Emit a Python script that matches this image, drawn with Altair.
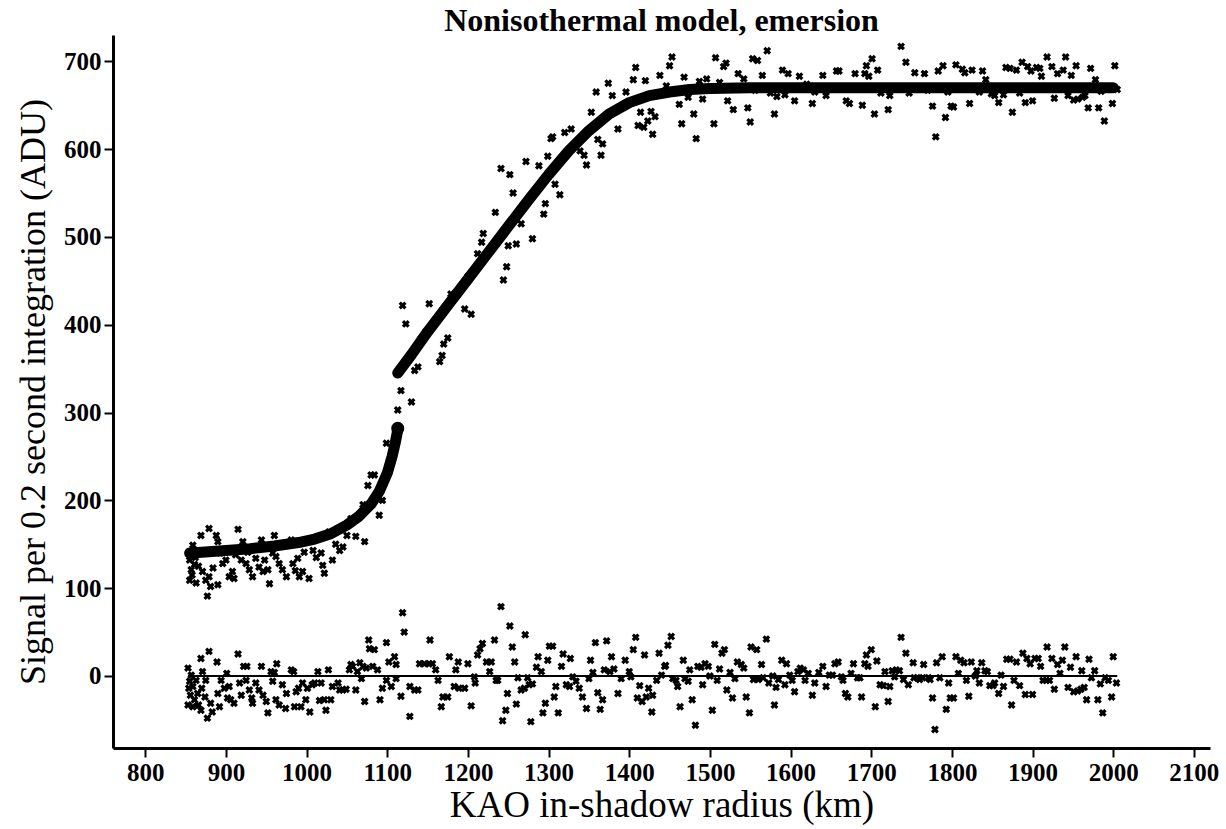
import altair as alt
import pandas as pd

FONT = "Liberation Serif"

title_text = "Nonisothermal model, emersion"
x_title = "KAO in-shadow radius (km)"
y_title = "Signal per 0.2 second integration (ADU)"
x_ticks = [800, 900, 1000, 1100, 1200, 1300, 1400, 1500, 1600, 1700, 1800, 1900, 2000, 2100]
y_ticks = [0, 100, 200, 300, 400, 500, 600, 700]

# observed light-curve points (radius km, signal ADU)
data_pts = [
    (855,132),(857,121),(855,109),(861,127),(863,106),(859,149),(869,160),(879,168),(871,119),(875,109),
    (879,113),(881,102),(877,91),(888,160),(890,153),(890,104),(896,128),(900,132),(904,113),(910,111),
    (908,119),(915,167),(921,153),(919,132),(925,128),(929,121),(933,113),(937,134),(941,124),(944,155),
    (948,132),(952,121),(954,105),(960,160),(962,136),(966,128),(970,121),(975,113),(981,155),(983,128),
    (989,134),(991,113),(995,119),(1003,111),(997,141),(1008,143),(1018,140),(1020,126),(1022,117),(1028,164),
    (1032,132),(1041,143),(1045,147),(1055,179),(1061,159),(1072,153),(1070,195),(1076,217),(1080,229),(1084,229),
    (1090,183),(1094,200),(858,115),(862,135),(866,125),(884,123),(893,140),(912,138),(927,141),(946,119),
    (958,140),(986,120),(1012,135),(1036,150),(1050,160),
    (1099,265),(1113,303),(1117,325),(1130,312),(1123,401),(1119,422),(1152,424),(1134,348),(1138,352),(1142,384),
    (1148,392),(1157,401),(1168,365),(1165,358),(1170,378),(1175,385),(1179,435),(1190,439),(1200,455),(1204,412),
    (1196,418),(1212,481),(1217,494),(1219,504),(1234,528),(1244,451),(1248,466),(1250,490),(1260,492),(1266,515),
    (1280,498),(1256,550),(1241,578),(1252,571),(1272,586),(1288,581),(1294,526),(1296,538),(1299,592),(1308,560),
    (1314,548),(1303,612),(1305,614),(1320,619),(1328,623),(1339,598),(1344,593),(1347,582),(1365,593),(1361,611),
    (1367,606),(1353,642),(1359,665),(1374,675),(1379,661),(1386,623),
    (1396,665),(1405,679),(1408,693),(1414,642),(1411,627),(1418,625),(1420,678),(1423,632),(1427,643),(1432,637),
    (1429,617),(1438,684),(1446,672),(1450,695),(1453,705),(1462,651),(1465,629),(1468,682),(1473,659),(1480,640),
    (1483,612),(1487,677),(1491,657),(1496,680),(1505,629),(1507,704),(1517,694),(1520,698),(1512,676),(1522,655),
    (1529,645),(1535,686),(1542,680),(1547,647),(1550,631),(1553,703),(1559,701),(1556,667),(1565,684),(1571,712),
    (1575,664),(1580,640),(1583,660),(1593,662),(1590,690),(1597,686),(1605,655),(1611,683),(1620,674),(1627,652),
    (1630,665),(1640,684),(1644,661),(1657,689),(1660,689),(1669,655),(1673,652),(1680,686),
    (1689,650),(1692,686),(1694,695),(1701,703),(1697,683),(1708,690),(1712,664),(1704,640),(1721,645),(1723,661),
    (1737,717),(1743,699),(1747,664),(1754,687),(1766,686),(1770,667),(1776,649),(1780,614),(1783,689),(1789,695),
    (1792,636),(1795,665),(1799,649),(1802,648),(1805,696),(1813,691),(1816,687),(1822,652),(1825,690),(1834,665),
    (1838,689),(1842,679),(1849,663),(1853,661),(1858,653),(1864,662),(1867,693),(1872,692),(1875,642),(1880,690),
    (1884,664),(1887,699),(1891,653),(1894,694),(1898,689),(1900,655),(1905,693),(1909,692),(1911,683),(1918,705),
    (1920,669),(1924,694),(1927,658),(1931,686),(1938,690),(1941,705),(1944,661),(1948,684),(1951,656),(1956,657),
    (1962,659),(1954,695),(1965,661),(1969,647),(1972,692),(1978,679),(1982,647),(1985,666),(1989,632),(1999,652),
    (2002,695),(2005,668),
]

# residuals (radius km, data minus model ADU)
resid_pts = [
    (853,9),(855,-6),(854,-14),(856,-22),(857,1),(853,-33),(859,-12),(861,-27),(859,-35),(863,-5),
    (865,-20),(866,-33),(869,20),(871,5),(870,-14),(869,-39),(875,-5),(874,-24),(879,28),(877,-48),
    (881,-31),(883,-41),(889,16),(890,-20),(892,-35),(894,-5),(898,-14),(901,3),(902,-25),(906,-27),
    (910,-31),(904,-12),(915,25),(917,-8),(919,-22),(922,11),(926,11),(925,-5),(929,-16),(932,-25),
    (933,-31),(937,-8),(941,-16),(944,11),(946,-22),(950,-29),(952,-42),(956,5),(960,4),(963,14),
    (958,-6),(962,-27),(966,-33),(970,-10),(974,-37),(975,-20),(981,7),(984,5),(985,-35),(987,-18),
    (990,-14),(993,-35),(995,-8),(999,-27),(1001,-14),(1004,-41),(1007,-10),(1010,-8),(1014,5),(1016,-28),
    (1018,-8),(1022,-27),(1024,-39),(1027,7),(1030,-27),(1032,-12),(1039,-8),(1041,-16),(1045,-16),(1049,-15),
    (1053,7),(1057,11),(1055,13),(1061,-16),(1066,15),(1070,11),(1063,5),(1068,-3),(1072,-29),(1074,9),
    (1077,41),(1078,31),(1082,11),(1084,30),(1088,7),(1091,-27),(1094,-14),(1099,38),(1099,-5),(1102,16),
    (1111,-3),
    (1105,-12),(1109,22),(1111,13),(1117,-23),(1119,72),(1121,50),(1128,-46),(1128,-12),(1134,-16),(1138,-16),
    (1140,14),(1146,14),(1152,14),(1156,14),(1153,41),(1160,7),(1163,-5),(1167,-35),(1169,-24),(1175,-24),
    (1177,22),(1183,-12),(1189,-14),(1196,-14),(1185,7),(1188,16),(1200,14),(1204,-34),(1208,-1),(1209,-8),
    (1212,24),(1215,31),(1218,37),(1223,16),(1229,16),(1227,5),(1233,41),(1235,-5),(1237,-5),(1241,79),
    (1243,-51),(1247,-39),(1249,-20),(1252,57),(1255,33),(1258,16),(1260,-32),(1262,-2),(1266,-16),(1270,-14),
    (1271,47),(1274,-2),(1276,-10),(1280,-9),(1278,-52),(1285,10),(1287,22),(1291,5),(1293,-42),(1296,-31),
    (1299,18),(1301,34),(1305,34),(1307,-24),(1309,-12),(1312,-42),(1316,11),(1318,25),(1322,-10),(1326,-12),
    (1330,-1),(1327,20),(1334,-6),(1338,-14),(1342,-24),(1347,-37),(1350,-3),(1352,18),(1355,4),(1358,38),
    (1361,-19),(1367,-27),(1364,-38),(1369,7),(1372,40),(1376,5),(1378,22),(1381,8),(1386,-20),(1390,-3),
    (1395,18),
    (1400,5),(1402,-1),(1405,30),(1408,44),(1410,-25),(1413,-11),(1416,-29),(1419,24),(1421,-24),(1424,-14),
    (1429,-22),(1428,-41),(1434,-5),(1437,26),(1440,1),(1444,11),(1445,12),(1448,35),(1452,45),(1454,-3),
    (1458,-5),(1460,-12),(1463,-35),(1467,18),(1469,-3),(1473,-6),(1475,7),(1478,-27),(1482,-56),(1485,11),
    (1489,10),(1494,14),(1498,11),(1491,-10),(1500,0),(1503,-39),(1506,36),(1509,-5),(1512,8),(1515,26),
    (1518,30),(1521,-16),(1525,4),(1528,-25),(1531,-3),(1534,16),(1539,13),(1542,9),(1545,-24),(1549,-42),
    (1551,33),(1558,30),(1554,-4),(1560,-4),(1564,13),(1566,-2),(1570,42),(1573,-8),(1578,0),(1580,-33),
    (1582,-13),(1585,-4),(1589,18),(1595,14),(1593,-10),(1599,1),(1602,-5),(1605,-18),(1609,5),(1612,9),
    (1616,7),(1618,-5),(1622,3),(1627,-22),(1630,-8),(1635,4),(1640,11),(1644,-12),(1648,1),(1652,1),
    (1655,14),(1659,16),(1663,-1),(1665,-5),(1668,-20),(1671,-24),(1675,3),(1678,14),(1683,-2),(1686,-2),
    (1688,-24),(1692,14),(1696,11),(1694,24),
    (1700,30),(1705,-35),(1707,17),(1711,-10),(1715,-11),(1717,5),(1721,-29),(1723,-12),(1726,6),(1731,7),
    (1735,6),(1729,-1),(1737,44),(1740,-4),(1743,26),(1746,-10),(1752,15),(1753,-2),(1757,-2),(1760,-4),
    (1764,-2),(1765,13),(1771,-2),(1773,-4),(1776,-25),(1779,-61),(1781,15),(1785,-2),(1788,22),(1793,-38),
    (1796,-8),(1798,-25),(1802,-25),(1805,22),(1808,3),(1811,18),(1815,15),(1818,-5),(1821,-23),(1824,16),
    (1829,0),(1831,6),(1834,-8),(1837,15),(1841,6),(1844,5),(1847,-11),(1851,-11),(1853,-8),(1858,-20),
    (1861,1),(1864,-12),(1868,19),(1872,19),(1874,-33),(1877,-5),(1880,16),(1884,-11),(1888,26),(1893,20),
    (1897,14),(1891,-21),(1900,-21),(1903,20),(1907,20),(1910,11),(1913,-5),(1917,-5),(1921,-5),(1918,33),
    (1924,20),(1927,-15),(1931,13),(1934,3),(1937,18),(1940,33),(1944,-13),(1947,10),(1951,-18),(1956,-17),
    (1960,-15),(1954,22),(1961,6),(1964,-13),(1967,-27),(1970,19),(1973,-2),(1977,6),(1981,-27),(1984,-9),
    (1987,-42),(1990,-2),(1994,-5),(1998,-24),(2000,22),(2004,-8),
]

# model curve, two branches
model_low = [(855,140),(870,141),(900,143),(930,145),(960,148),(990,152),(1010,156),(1030,162),(1050,172),
             (1065,182),(1080,196),(1090,210),(1100,231),(1106,250),(1110,266),(1113,280)]
model_up = [(1113,345),(1130,366),(1150,392),(1175,422),(1200,452),(1225,482),(1250,512),(1275,542),
            (1300,571),(1325,598),(1350,621),(1375,640),(1400,653),(1425,661),(1450,665),(1475,668),
            (1500,669),(1550,670),(1600,670),(1700,670),(1800,670),(1900,670),(2000,670)]
model_knot = [(1113,282)]
zero_line = [(853,0),(2005,0)]

df_data = pd.DataFrame(data_pts, columns=["x", "y"])
df_res = pd.DataFrame(resid_pts, columns=["x", "y"])
df_model = pd.concat([
    pd.DataFrame(model_low, columns=["x", "y"]).assign(branch="low"),
    pd.DataFrame(model_up, columns=["x", "y"]).assign(branch="up"),
])
df_knot = pd.DataFrame(model_knot, columns=["x", "y"])
df_zero = pd.DataFrame(zero_line, columns=["x", "y"])

x_scale = alt.Scale(domain=[760, 2120], nice=False, zero=False)
y_scale = alt.Scale(domain=[-82, 730], nice=False, zero=False)

x_enc = alt.X("x:Q", scale=x_scale,
              axis=alt.Axis(values=x_ticks, title=x_title, format="d", titleFontSize=37, titlePadding=2))
y_enc = alt.Y("y:Q", scale=y_scale,
              axis=alt.Axis(values=y_ticks, title=y_title, format="d", titleFontSize=36, titlePadding=11))

pts = alt.Chart(df_data).mark_point(shape="cross", angle=45, filled=True, size=64,
                                    color="black", opacity=1).encode(x=x_enc, y=y_enc)
res = alt.Chart(df_res).mark_point(shape="cross", angle=45, filled=True, size=64,
                                   color="black", opacity=1).encode(x=x_enc, y=y_enc)
zero = alt.Chart(df_zero).mark_line(color="black", strokeWidth=2).encode(x=x_enc, y=y_enc)
model = alt.Chart(df_model).mark_line(color="black", strokeWidth=11, strokeCap="round",
                                      strokeJoin="round").encode(x=x_enc, y=y_enc, detail="branch:N")
knot = alt.Chart(df_knot).mark_circle(color="black", size=170, opacity=1).encode(x=x_enc, y=y_enc)

chart = alt.layer(pts, res, zero, model, knot).properties(
    width=1097, height=713,
    autosize=alt.AutoSizeParams(type="none"),
    padding={"left": 113, "top": 35, "right": 16, "bottom": 81},
    title=alt.TitleParams(title_text, font=FONT, fontSize=32, fontWeight="bold",
                          color="black", anchor="middle", offset=-3),
).configure_view(stroke=None).configure_axis(
    grid=False,
    domainColor="black", domainWidth=3,
    tickColor="black", tickWidth=2, tickSize=9,
    labelFont=FONT, labelFontSize=25, labelFontWeight="bold", labelColor="black", labelPadding=3,
    titleFont=FONT, titleFontWeight="normal", titleColor="black",
)

chart.save("out.html", embed_options={"renderer": "svg", "actions": False})
